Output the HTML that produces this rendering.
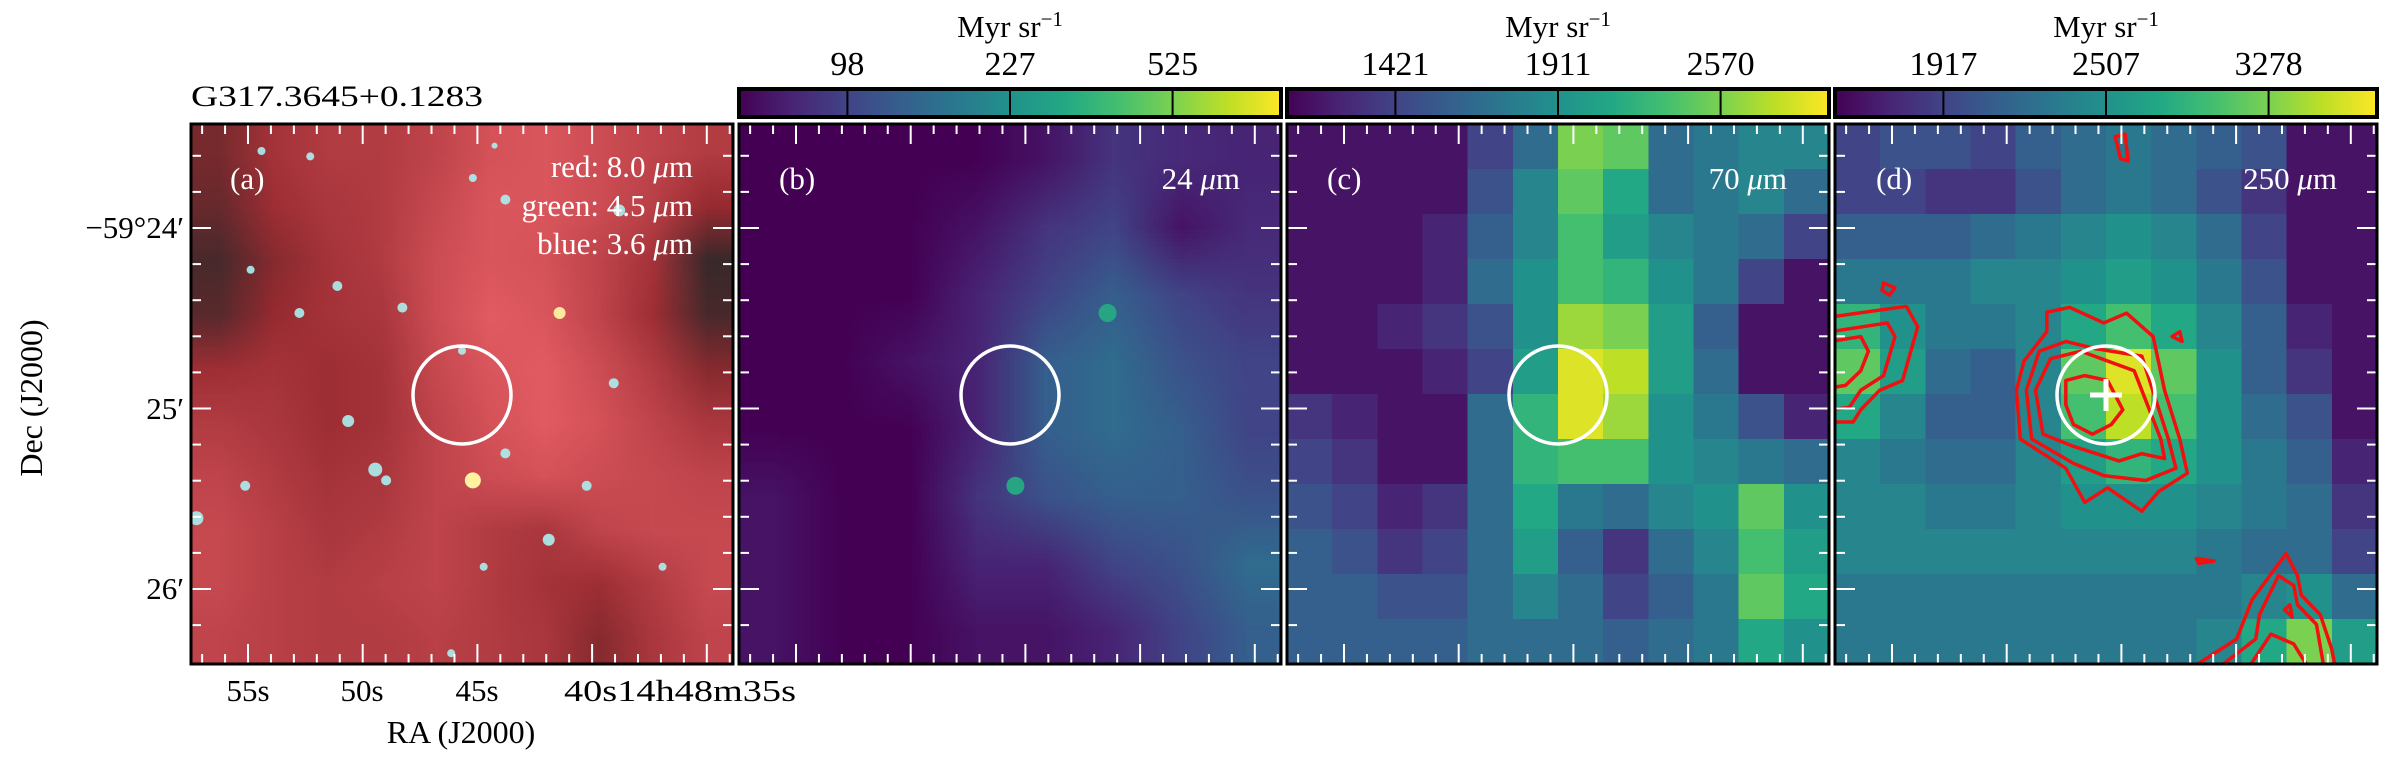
<!DOCTYPE html>
<html><head><meta charset="utf-8">
<style>
body{margin:0;background:#fff;width:2391px;height:765px;overflow:hidden;position:relative;font-family:"Liberation Serif",serif}
canvas{position:absolute}
svg{position:absolute;left:0;top:0}
</style></head><body>
<canvas id="ca" width="10" height="10" style="left:191px;top:124px;width:542px;height:540px"></canvas>
<canvas id="cb" width="8" height="8" style="left:739px;top:124px;width:542px;height:540px"></canvas>
<canvas id="cc" width="12" height="12" style="left:1287px;top:124px;width:542px;height:540px;image-rendering:pixelated"></canvas>
<canvas id="cd" width="12" height="12" style="left:1835px;top:124px;width:542px;height:540px;image-rendering:pixelated"></canvas>
<svg id="ov" width="2391" height="765" font-family="Liberation Serif, serif"></svg>
<script>
const gridB=[[0,0,0,0,0.05,0.15,0.12,0.1],[0,0,0,0.05,0.15,0.2,0.05,0.12],[0,0,0,0.1,0.2,0.3,0.2,0.15],[0,0,0.05,0.1,0.3,0.35,0.25,0.2],[0,0,0,0.1,0.3,0.35,0.3,0.2],[0.05,0,0,0.15,0.25,0.3,0.3,0.25],[0.05,0,0,0.1,0.1,0.2,0.25,0.35],[0.05,0,0,0.05,0.05,0.1,0.2,0.3]];
const gridC=[[0.05,0.05,0.05,0.05,0.2,0.35,0.8,0.75,0.35,0.4,0.45,0.45],[0.05,0.05,0.05,0.05,0.25,0.45,0.75,0.6,0.35,0.4,0.45,0.35],[0.05,0.05,0.05,0.1,0.3,0.45,0.7,0.55,0.45,0.4,0.35,0.2],[0.05,0.05,0.05,0.1,0.35,0.5,0.7,0.65,0.5,0.4,0.2,0.05],[0.05,0.05,0.1,0.15,0.25,0.5,0.85,0.8,0.55,0.3,0.05,0.05],[0.05,0.05,0.05,0.1,0.2,0.55,0.95,0.9,0.55,0.35,0.05,0.05],[0.15,0.1,0.05,0.05,0.35,0.65,0.95,0.85,0.5,0.4,0.25,0.1],[0.2,0.15,0.05,0.05,0.35,0.65,0.7,0.7,0.5,0.45,0.4,0.35],[0.25,0.2,0.1,0.15,0.35,0.6,0.4,0.35,0.45,0.5,0.75,0.5],[0.3,0.25,0.15,0.2,0.35,0.55,0.3,0.15,0.35,0.45,0.7,0.55],[0.3,0.3,0.25,0.25,0.35,0.45,0.35,0.2,0.3,0.4,0.75,0.6],[0.3,0.3,0.3,0.3,0.35,0.35,0.35,0.3,0.35,0.4,0.6,0.5]];
const gridD=[[0.2,0.25,0.25,0.2,0.3,0.35,0.4,0.35,0.3,0.25,0.05,0.05],[0.2,0.2,0.15,0.15,0.25,0.35,0.4,0.35,0.25,0.15,0.05,0.05],[0.3,0.3,0.3,0.35,0.4,0.45,0.5,0.45,0.35,0.2,0.05,0.05],[0.4,0.4,0.4,0.45,0.45,0.5,0.55,0.5,0.4,0.25,0.05,0.05],[0.65,0.5,0.4,0.4,0.45,0.6,0.7,0.6,0.45,0.3,0.1,0.05],[0.75,0.55,0.35,0.3,0.45,0.75,0.95,0.75,0.5,0.3,0.15,0.05],[0.6,0.45,0.3,0.3,0.45,0.7,0.9,0.7,0.5,0.35,0.25,0.05],[0.45,0.4,0.35,0.35,0.45,0.55,0.65,0.6,0.5,0.4,0.3,0.1],[0.45,0.45,0.4,0.4,0.45,0.5,0.5,0.5,0.45,0.4,0.35,0.15],[0.45,0.45,0.45,0.45,0.45,0.45,0.45,0.45,0.4,0.35,0.35,0.2],[0.4,0.4,0.4,0.4,0.4,0.4,0.4,0.4,0.4,0.45,0.5,0.35],[0.4,0.4,0.4,0.4,0.4,0.4,0.4,0.4,0.45,0.6,0.8,0.55]];
const gridA=[[0.3,0.5,0.6,0.6,0.7,0.85,0.9,0.8,0.7,0.6],[0.25,0.45,0.55,0.6,0.75,0.9,0.9,0.8,0.65,0.4],[0.15,0.35,0.5,0.6,0.8,0.9,0.85,0.7,0.5,0.1],[0.2,0.4,0.5,0.55,0.8,0.95,0.9,0.7,0.45,0.15],[0.45,0.5,0.45,0.5,0.75,0.9,0.95,0.8,0.6,0.35],[0.6,0.55,0.45,0.5,0.7,0.85,0.95,0.85,0.7,0.55],[0.7,0.6,0.5,0.55,0.7,0.8,0.85,0.8,0.75,0.7],[0.75,0.65,0.55,0.6,0.7,0.6,0.55,0.7,0.75,0.75],[0.75,0.65,0.6,0.65,0.7,0.6,0.5,0.45,0.6,0.75],[0.7,0.65,0.6,0.6,0.65,0.6,0.55,0.35,0.55,0.7]];
const starsA=[[0.22,0.06,4],[0.11,0.27,4],[0.52,0.1,4],[0.58,0.14,5],[0.79,0.16,6],[0.27,0.3,5],[0.2,0.35,5],[0.39,0.34,5],[0.78,0.48,5],[0.29,0.55,6],[0.34,0.64,7],[0.36,0.66,5],[0.1,0.67,5],[0.58,0.61,5],[0.73,0.67,5],[0.66,0.77,6],[0.01,0.73,7],[0.54,0.82,4],[0.87,0.82,4],[0.48,0.98,4],[0.13,0.05,4],[0.5,0.42,4],[0.56,0.04,3]];
const brightA=[[0.52,0.66,8,'#fff2a0'],[0.68,0.35,6,'#ffe9a0']];
const srcB=[[0.68,0.35],[0.51,0.67]];
const vstops=['#440154','#482475','#414487','#355f8d','#2a788e','#21918c','#22a884','#44bf70','#7ad151','#bddf26','#fde725'];
function hex(h){return [parseInt(h.slice(1,3),16),parseInt(h.slice(3,5),16),parseInt(h.slice(5,7),16)];}
function vir(t){t=Math.max(0,Math.min(1,t))*10;const i=Math.min(9,Math.floor(t)),f=t-i;const a=hex(vstops[i]),b=hex(vstops[i+1]);return a.map((v,k)=>Math.round(v+(b[k]-v)*f));}
function drawGrid(id,g){const c=document.getElementById(id),x=c.getContext('2d'),n=g.length,m=g[0].length;const im=x.createImageData(m,n);for(let r=0;r<n;r++)for(let q=0;q<m;q++){const v=vir(g[r][q]),o=(r*m+q)*4;im.data[o]=v[0];im.data[o+1]=v[1];im.data[o+2]=v[2];im.data[o+3]=255;}x.putImageData(im,0,0);}
drawGrid('cb',gridB);drawGrid('cc',gridC);drawGrid('cd',gridD);
(function(){const c=document.getElementById('ca'),x=c.getContext('2d');const im=x.createImageData(10,10);const dk=[25,40,40],md=[150,42,48],br=[232,95,102];for(let r=0;r<10;r++)for(let q=0;q<10;q++){const t=gridA[r][q];let col;if(t<0.4){const f=t/0.4;col=dk.map((v,k)=>v+(md[k]-v)*f);}else{const f=(t-0.4)/0.6;col=md.map((v,k)=>v+(br[k]-v)*f);}const o=(r*10+q)*4;im.data[o]=col[0];im.data[o+1]=col[1];im.data[o+2]=col[2];im.data[o+3]=255;}x.putImageData(im,0,0);})();
const NS='http://www.w3.org/2000/svg';const sv=document.getElementById('ov');
function el(t,a,p){const e=document.createElementNS(NS,t);for(const k in a)e.setAttribute(k,a[k]);(p||sv).appendChild(e);return e;}
const PX=[191,739,1287,1835],PY=124,PW=542,PH=540;
starsA.forEach(s=>{const e=el('circle',{cx:PX[0]+s[0]*PW,cy:PY+s[1]*PH,r:s[2],fill:'#a8f0f0',opacity:0.9});});
brightA.forEach(s=>{const e=el('circle',{cx:PX[0]+s[0]*PW,cy:PY+s[1]*PH,r:s[2],fill:s[3]});});
srcB.forEach(s=>{const e=el('circle',{cx:PX[1]+s[0]*PW,cy:PY+s[1]*PH,r:9,fill:'#27a582'});});
const defs=el('defs',{});const cp=el('clipPath',{id:'clipd'},defs);el('rect',{x:PX[3],y:PY,width:PW,height:PH},cp);
const outer=el('g',{'clip-path':'url(#clipd)'});
const cg=el('g',{transform:'translate(1200,0) scale(0.7595,0.4878)'},outer);
const contours=[
'1115,640 1145,630 1190,662 1220,642 1255,690 1270,800 1290,900 1300,970 1262,1008 1240,1048 1195,1000 1165,1030 1140,960 1080,900 1075,800 1085,740 1115,680',
'1105,720 1140,700 1180,715 1240,730 1275,900 1285,960 1245,985 1190,975 1150,950 1095,900 1088,800',
'1120,735 1160,720 1230,760 1265,900 1270,940 1240,930 1210,945 1150,915 1110,890 1100,800',
'1140,780 1165,770 1195,780 1215,840 1200,870 1175,890 1150,870 1140,830',
'900,580 915,590 908,605 898,595','1205,280 1218,275 1222,330 1212,325','1280,690 1290,680 1293,700','1312,1145 1335,1150 1315,1155','1428,1250 1435,1240 1438,1265'];
const openC=['830,650 930,628 945,670 925,780 895,800 870,840 860,865 830,865','830,680 905,662 915,690 900,770 870,800 855,835 830,840','830,700 870,690 880,720 870,760 850,790 830,795',
'1305,1370 1365,1310 1385,1230 1430,1135 1445,1180 1450,1220 1475,1260 1490,1330 1495,1370','1340,1370 1390,1310 1395,1260 1420,1180 1440,1200 1445,1240 1470,1280 1480,1370','1380,1370 1410,1300 1440,1320 1460,1370'];
contours.forEach(p=>{const e=el('polygon',{points:p,fill:'none',stroke:'#f01010','stroke-width':3.5,'vector-effect':'non-scaling-stroke','stroke-linejoin':'round'},cg);});
openC.forEach(p=>{const e=el('polyline',{points:p,fill:'none',stroke:'#f01010','stroke-width':3.5,'vector-effect':'non-scaling-stroke','stroke-linejoin':'round'},cg);});
PX.forEach((x0,i)=>{
 const g=el('g',{stroke:'#fff','stroke-width':2});
 for(let k=-2;k<=22;k++){const x=x0+57+k*22.94;if(x<x0+3||x>x0+PW-3)continue;const L=(k%5===0)?20:10;el('line',{x1:x,y1:PY,x2:x,y2:PY+L},g);el('line',{x1:x,y1:PY+PH,x2:x,y2:PY+PH-L},g);}
 for(let k=-3;k<=14;k++){const y=PY+104+k*36.1;if(y<PY+3||y>PY+PH-3)continue;const L=(k%5===0)?20:10;el('line',{x1:x0,y1:y,x2:x0+L,y2:y},g);el('line',{x1:x0+PW,y1:y,x2:x0+PW-L,y2:y},g);}
 const c=el('circle',{cx:x0+271,cy:PY+271,r:49,fill:'none',stroke:'#fff','stroke-width':3.5});
 const f=el('rect',{x:x0,y:PY,width:PW,height:PH,fill:'none',stroke:'#000','stroke-width':3});
});
el('path',{d:`M${PX[3]+271-16} ${PY+271}h32M${PX[3]+271} ${PY+271-16}v32`,stroke:'#fff','stroke-width':5});
const cbTicks=[['98','227','525'],['1421','1911','2570'],['1917','2507','3278']];
const lg=el('linearGradient',{id:'vg'},defs);vstops.forEach((s,k)=>el('stop',{offset:k/10,'stop-color':s},lg));
[1,2,3].forEach((pi,j)=>{const x0=PX[pi];
 const r=el('rect',{x:x0,y:89,width:PW,height:28,fill:'url(#vg)',stroke:'#000','stroke-width':4});
 cbTicks[j].forEach((t,k)=>{const x=x0+PW*(0.2+0.3*k);el('line',{x1:x,y1:89,x2:x,y2:117,stroke:'#000','stroke-width':2});const tx=el('text',{x:x,y:75,'font-size':34,'text-anchor':'middle'});tx.textContent=t;});
 const u=el('text',{x:x0+PW/2,y:37,'font-size':31,'text-anchor':'middle'});u.innerHTML='Myr sr<tspan dy="-11" font-size="21">−1</tspan>';
});
</script>
<svg width="2391" height="765" style="pointer-events:none" font-family="Liberation Serif, serif">
<text x="191" y="106" font-size="30" textLength="292" lengthAdjust="spacingAndGlyphs">G317.3645+0.1283</text>
<g fill="#fff" font-size="31">
<text x="230" y="189">(a)</text>
<text x="693" y="177" text-anchor="end">red: 8.0 <tspan font-style="italic">μ</tspan>m</text>
<text x="693" y="216" text-anchor="end">green: 4.5 <tspan font-style="italic">μ</tspan>m</text>
<text x="693" y="254" text-anchor="end">blue: 3.6 <tspan font-style="italic">μ</tspan>m</text>
<text x="779" y="189">(b)</text>
<text x="1240" y="189" text-anchor="end">24 <tspan font-style="italic">μ</tspan>m</text>
<text x="1327" y="189">(c)</text>
<text x="1787" y="189" text-anchor="end">70 <tspan font-style="italic">μ</tspan>m</text>
<text x="1876" y="189">(d)</text>
<text x="2337" y="189" text-anchor="end">250 <tspan font-style="italic">μ</tspan>m</text>
</g>
<g font-size="31">
<text x="184" y="238" text-anchor="end">−59°24′</text>
<text x="184" y="419" text-anchor="end">25′</text>
<text x="184" y="599" text-anchor="end">26′</text>
</g>
<g font-size="31" text-anchor="middle">
<text x="248" y="701">55s</text>
<text x="362" y="701">50s</text>
<text x="477" y="701">45s</text>
<text x="564" y="701" text-anchor="start" textLength="232" lengthAdjust="spacingAndGlyphs">40s14h48m35s</text>
</g>
<text x="461" y="743" font-size="32" text-anchor="middle">RA (J2000)</text>
<text x="0" y="0" font-size="32" text-anchor="middle" transform="translate(42,398) rotate(-90)">Dec (J2000)</text>
</svg>
</body></html>
